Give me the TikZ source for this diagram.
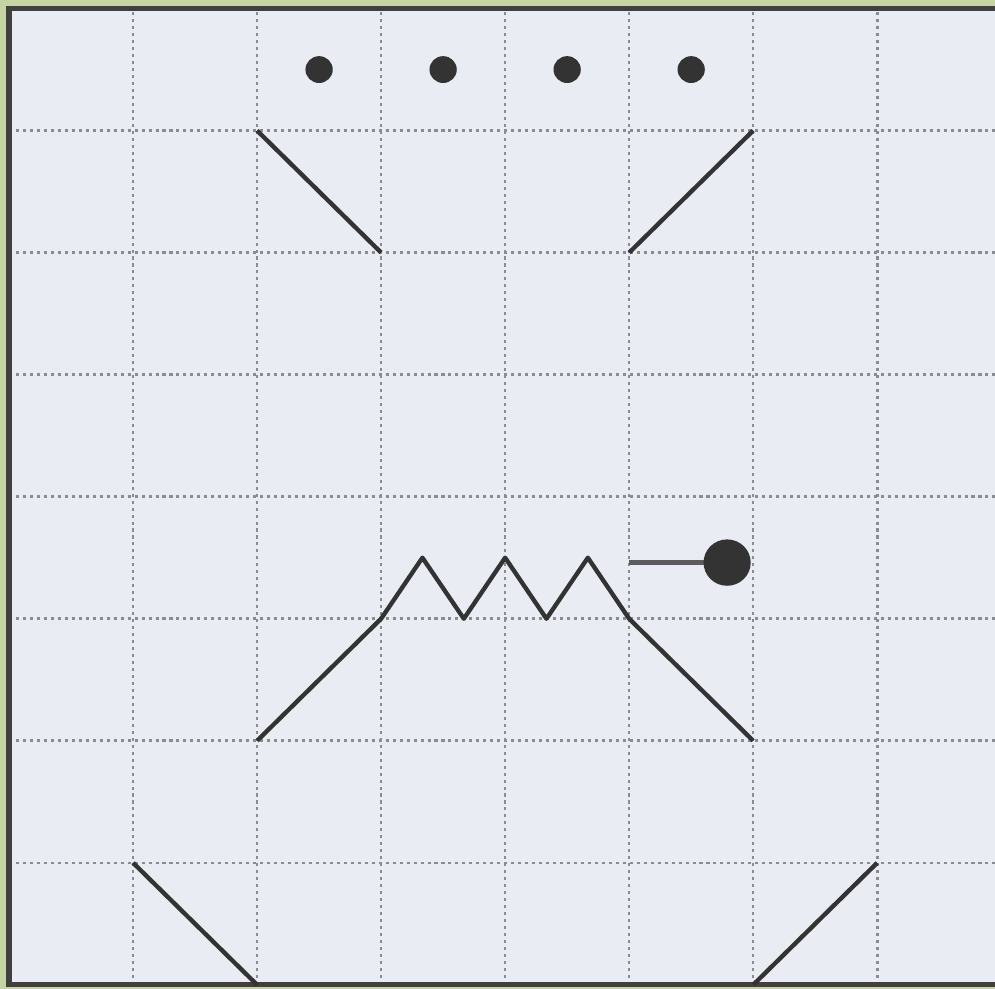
\documentclass[tikz,border=0pt]{standalone}
\usepackage{tikz}

\definecolor{paper}{HTML}{EAECF3}
\definecolor{mat}{HTML}{C6D3A2}
\definecolor{ink}{HTML}{333333}
\definecolor{gridgray}{HTML}{8A8C94}

\begin{document}
\begin{tikzpicture}[x=1cm, y=0.984cm, line width=1pt, ink]

  \useasboundingbox (-0.073, -0.033) rectangle (7.95, 8.07);

  % -- Mat and sheet --
  \fill[mat] (-0.073, -0.033) rectangle (7.95, 8.07);
  \fill[paper] (0, 0) rectangle (7.95, 8);

  % -- Grid --
  \foreach \k in {1,...,7} {
    \draw[gridgray, line width=0.6pt, dash pattern=on 0.7pt off 0.9pt] (\k, 0) -- (\k, 8);
    \draw[gridgray, line width=0.6pt, dash pattern=on 0.7pt off 0.9pt] (0, \k) -- (7.95, \k);
  }

  % -- Frame --
  \draw[line width=1.2pt, black!75] (7.95, 8) -- (0, 8) -- (0, 0) -- (7.95, 0);

  % -- Row of dots --
  \foreach \x in {2.5, 3.5, 4.5, 5.5}
    \fill (\x, 7.5) circle (0.11);

  % -- Brows --
  \draw (2, 7) -- (3, 6);
  \draw (6, 7) -- (5, 6);

  % -- Zigzag mouth --
  \draw[line join=round] (2, 2) -- (3, 3) -- (3.333, 3.5) -- (3.667, 3) -- (4, 3.5)
    -- (4.333, 3) -- (4.667, 3.5) -- (5, 3) -- (6, 2);

  % -- Stalk with ball --
  \draw[ink!80] (5, 3.46) -- (5.7, 3.46);
  \fill (5.79, 3.46) circle (0.19);

  % -- Lower corners --
  \draw (1, 1) -- (2, 0);
  \draw (7, 1) -- (6, 0);

\end{tikzpicture}
\end{document}
